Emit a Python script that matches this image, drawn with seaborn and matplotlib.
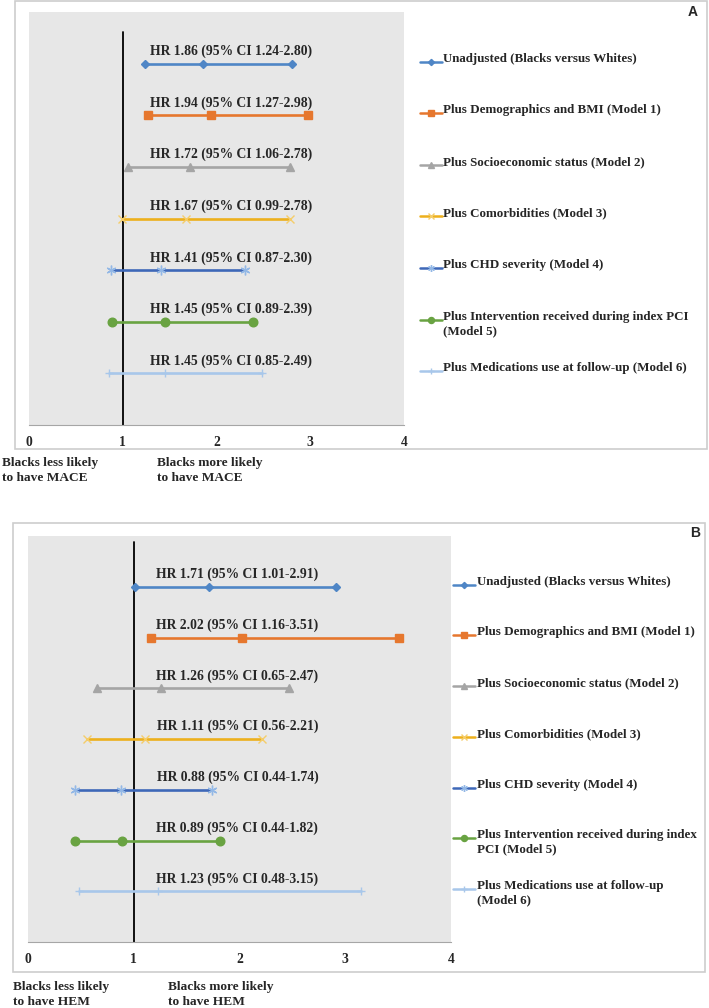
import matplotlib
matplotlib.use("Agg")
import matplotlib.pyplot as plt
import matplotlib.transforms as mtransforms
from matplotlib.patches import Rectangle
import seaborn as sns

# models (same order in both panels)
legend_a = [
    "Unadjusted (Blacks versus Whites)",
    "Plus Demographics and BMI (Model 1)",
    "Plus Socioeconomic status (Model 2)",
    "Plus Comorbidities (Model 3)",
    "Plus CHD severity (Model 4)",
    "Plus Intervention received during index PCI\n(Model 5)",
    "Plus Medications use at follow-up (Model 6)",
]
legend_b = [
    "Unadjusted (Blacks versus Whites)",
    "Plus Demographics and BMI (Model 1)",
    "Plus Socioeconomic status (Model 2)",
    "Plus Comorbidities (Model 3)",
    "Plus CHD severity (Model 4)",
    "Plus Intervention received during index\nPCI (Model 5)",
    "Plus Medications use at follow-up\n(Model 6)",
]

# panel A: MACE
hr_a = [1.86, 1.94, 1.72, 1.67, 1.41, 1.45, 1.45]
lo_a = [1.24, 1.27, 1.06, 0.99, 0.87, 0.89, 0.85]
hi_a = [2.80, 2.98, 2.78, 2.78, 2.30, 2.39, 2.49]

# panel B: HEM
hr_b = [1.71, 2.02, 1.26, 1.11, 0.88, 0.89, 1.23]
lo_b = [1.01, 1.16, 0.65, 0.56, 0.44, 0.44, 0.48]
hi_b = [2.91, 3.51, 2.47, 2.21, 1.74, 1.82, 3.15]

x_ticks = [0, 1, 2, 3, 4]
outcomes = ["MACE", "HEM"]
panel_tags = ["A", "B"]

line_colors = ["#4F86C6", "#E6772E", "#A5A5A5", "#EDB01C", "#3E68B8", "#69A342", "#A8C7EA"]
marker_colors = ["#4F86C6", "#E6772E", "#A5A5A5", "#F5CD6A", "#93B8E6", "#69A342", "#A8C7EA"]
markers = ["D", "s", "^", "x", (6, 2, 0), "o", "+"]
marker_sizes = [4.5, 6, 6, 6, 7, 6.2, 6]

W, H = 709, 1008

sns.set_style("white")
plt.rcParams["font.family"] = ["Liberation Serif", "DejaVu Serif"]
plt.rcParams["font.weight"] = "bold"

fig = plt.figure(figsize=(W / 100, H / 100), dpi=100)


def px_axes(left, top, right, bottom):
    return fig.add_axes([left / W, 1 - bottom / H, (right - left) / W, (bottom - top) / H])


def draw_panel(ax, lo, hr, hi, labels, label_x, vline_top, h0, h1, tx):
    n = len(hr)
    ax.set_facecolor("#E7E7E7")
    ax.axvline(1, ymin=0, ymax=vline_top, color="black", lw=1.3, zorder=1)
    blend = mtransforms.blended_transform_factory(ax.transAxes, ax.transData)
    for i in range(n):
        row = n - i
        sns.lineplot(x=[lo[i], hr[i], hi[i]], y=[row] * 3, ax=ax, color=line_colors[i],
                     lw=1.9, marker=markers[i], markersize=marker_sizes[i],
                     markerfacecolor=marker_colors[i], markeredgecolor=marker_colors[i],
                     markeredgewidth=1, estimator=None, errorbar=None, legend=False, zorder=3)
        ax.annotate(f"HR {hr[i]:.2f} (95% CI {lo[i]:.2f}-{hi[i]:.2f})", xy=(label_x, row),
                    xytext=(0, 4), textcoords="offset points", ha="center", va="bottom",
                    fontsize=9.8)
        # legend entry
        ax.plot([h0, (h0 + h1) / 2, h1], [row + 0.04] * 3, transform=blend, clip_on=False,
                color=line_colors[i], lw=1.8, marker=markers[i], markevery=[1],
                markersize=marker_sizes[i] * 0.7, markerfacecolor=marker_colors[i],
                markeredgecolor=marker_colors[i])
        ax.annotate(labels[i], xy=(tx, row + 0.04), xycoords=blend, xytext=(0, 6.5),
                    textcoords="offset points", ha="left", va="top", fontsize=9.4,
                    linespacing=1.25)
    ax.set_xlim(0, 4)
    ax.set_ylim(0, 8)
    ax.set_xticks(x_ticks)
    ax.set_xticklabels([str(t) for t in x_ticks])
    ax.set_yticks([])
    ax.set_xlabel("")
    ax.set_ylabel("")
    for s in ["left", "top", "right"]:
        ax.spines[s].set_visible(False)
    ax.spines["bottom"].set_color("#A6A6A6")
    ax.tick_params(axis="x", length=4, color="#A6A6A6", pad=4, labelsize=9.8, direction="out")


# panel A
ax_a = px_axes(29, 12, 404, 425)
draw_panel(ax_a, lo_a, hr_a, hi_a, legend_a, 2.16, 0.951, 1.043, 1.101, 1.105)
# panel B
ax_b = px_axes(28, 536, 451, 942)
draw_panel(ax_b, lo_b, hr_b, hi_b, legend_b, 1.98, 0.985, 1.005, 1.057, 1.062)

# outer frames
for (x0, y0, x1, y1) in [(15, 1, 707, 449), (13, 523, 705, 972)]:
    fig.add_artist(Rectangle((x0 / W, 1 - y1 / H), (x1 - x0) / W, (y1 - y0) / H,
                             transform=fig.transFigure, fill=False, ec="#CDCDCD", lw=1.2))

# panel tags
fig.text(693 / W, 1 - 12 / H, panel_tags[0], ha="center", va="center", fontsize=10,
         family="Liberation Sans", weight="bold")
fig.text(695 / W, 1 - 533 / H, panel_tags[1], ha="center", va="center", fontsize=10,
         family="Liberation Sans", weight="bold")

# direction captions
for (xl, xr, ytop, outcome) in [(2, 157, 457, outcomes[0]), (13, 168, 981, outcomes[1])]:
    fig.text(xl / W, 1 - ytop / H, f"Blacks less likely\nto have {outcome}", ha="left",
             va="top", fontsize=9.6, linespacing=1.3)
    fig.text(xr / W, 1 - ytop / H, f"Blacks more likely\nto have {outcome}", ha="left",
             va="top", fontsize=9.6, linespacing=1.3)

fig.savefig("out.png", dpi=100, facecolor="white")
